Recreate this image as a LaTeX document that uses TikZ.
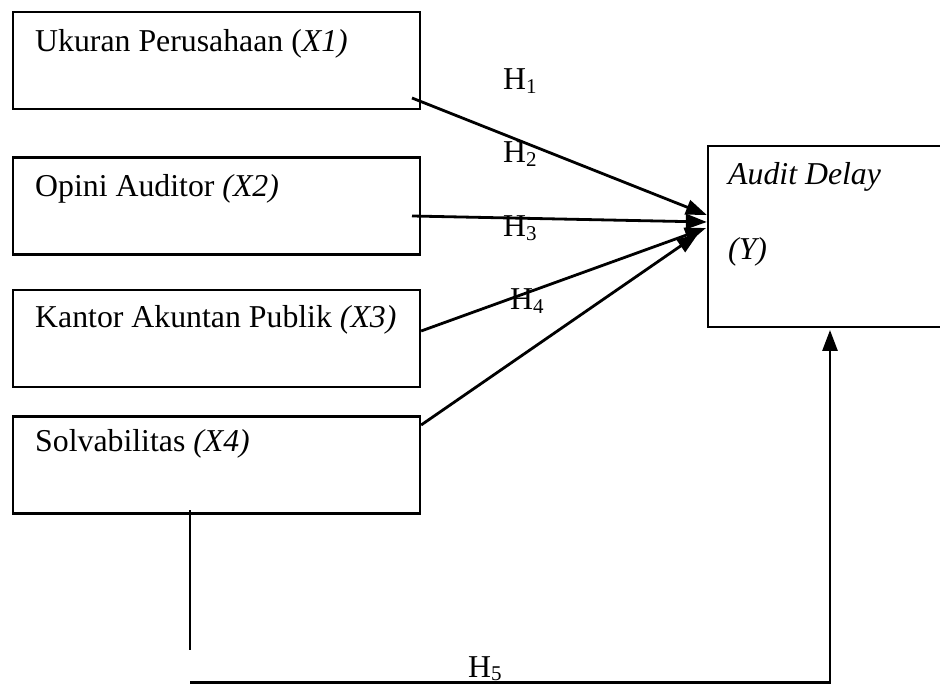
\documentclass[tikz,border=0pt]{standalone}
\usepackage{fontspec}
\setmainfont{Liberation Serif}
\usetikzlibrary{arrows.meta,calc}
\newcommand{\hsub}[1]{\raisebox{-3.5pt}{\fontsize{21}{21}\selectfont #1}}
\begin{document}
\begin{tikzpicture}[x=1pt,y=-1pt,
  box/.style={draw,line width=2.3pt,rectangle,inner sep=0pt,minimum width=407pt,minimum height=97pt},
  txt/.style={anchor=base west,inner sep=0pt,font=\fontsize{31.8}{38}\selectfont},
  hlab/.style={anchor=base west,inner sep=0pt,font=\fontsize{31.8}{38}\selectfont},
  arr/.style={line width=2.8pt,-{Triangle[length=21pt,width=15pt]}}]
\useasboundingbox (0,0) rectangle (940,684);
% boxes
\node[box] (b1) at (216.5,60.5) {};
\node[box] (b2) at (216.5,206) {};
\node[box] (b3) at (216.5,338.5) {};
\node[box] (b4) at (216.5,465) {};
\node[draw,line width=2.3pt,rectangle,inner sep=0pt,minimum width=240pt,minimum height=181pt] (y) at (828,236.5) {};
% texts
\node[txt] (t1) at (35,52) {Ukuran Perusahaan (\textit{X1)}};
\node[txt] (t2) at (35,197) {Opini Auditor \textit{(X2)}};
\node[txt] (t3) at (35,328) {Kantor Akuntan Publik \textit{(X3)}};
\node[txt] (t4) at (35,452) {Solvabilitas \textit{(X4)}};
\node[txt] (ty1) at (728,185) {\textit{Audit Delay}};
\node[txt] (ty2) at (728,260) {\textit{(Y)}};
% connector end points
\coordinate (s1) at (412,98);
\coordinate (s2) at (412,216);
\coordinate (s3) at (b3.east |- 0,331);
\coordinate (s4) at (b4.east |- 0,425);
\coordinate (e1) at (y.west |- 0,215);
\coordinate (e2) at (y.west |- 0,222);
\coordinate (e3) at (706,228);
\coordinate (e4) at (698,234);
\draw[arr] (s1) -- (e1);
\draw[arr] (s2) -- (e2);
\draw[arr] (s3) -- (e3);
\draw[arr] (s4) -- (e4);
% H5 path
\coordinate (v1) at (190,510);
\coordinate (v2) at (190,650);
\coordinate (h1) at (190,682.5);
\coordinate (h2) at (830,682.5);
\coordinate (e5) at (830,330);
\draw[line width=2.3pt] (v1) -- (v2);
\draw[arr] (h1) -- (h2) -- (e5);
% labels
\node[hlab] (l1) at (503,90) {H\hsub{1}};
\node[hlab] (l2) at (503,163) {H\hsub{2}};
\node[hlab] (l3) at (503,237) {H\hsub{3}};
\node[hlab] (l4) at (510,310) {H\hsub{4}};
\node[hlab] (l5) at (468,677) {H\hsub{5}};
\end{tikzpicture}
\end{document}
